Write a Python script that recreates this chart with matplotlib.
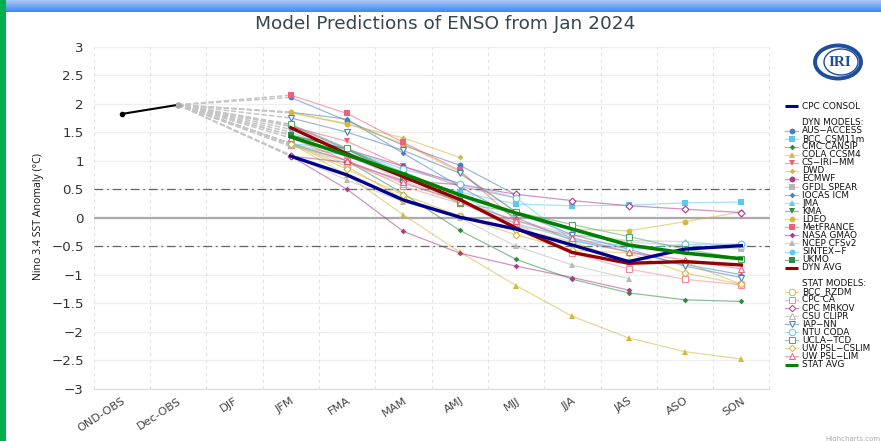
import numpy as np
import matplotlib
matplotlib.use("Agg")
import matplotlib.pyplot as plt
from matplotlib.patches import Ellipse

W, H = 881, 441
n = np.nan

categories = ["OND-OBS", "Dec-OBS", "DJF", "JFM", "FMA", "MAM", "AMJ", "MJJ", "JJA", "JAS", "ASO", "SON"]
yticks = [3, 2.5, 2, 1.5, 1, 0.5, 0, -0.5, -1, -1.5, -2, -2.5, -3]

obs_x = [0, 1]
obs_vals = [1.82, 1.98]

# forecast values JFM..SON
aus_access = [2.11, 1.70, 1.27, 0.92, 0.40, n, n, n, n]
bcc_csm = [1.30, 1.08, 0.70, 0.45, 0.24, 0.21, 0.22, 0.26, 0.275]
cmc_cansip = [1.30, 1.00, 0.42, -0.22, -0.73, -1.08, -1.32, -1.44, -1.47]
cola_ccsm4 = [1.30, 0.75, 0.05, -0.60, -1.19, -1.73, -2.11, -2.35, -2.48]
cs_iri_mm = [1.60, 1.34, 0.90, 0.55, 0.35, n, n, n, n]
dwd = [1.84, 1.64, 1.40, 1.06, n, n, n, n, n]
ecmwf = [1.62, 1.20, 0.90, 0.60, n, n, n, n, n]
gfdl_spear = [1.25, 1.10, 0.65, 0.30, -0.05, -0.30, -0.42, -0.50, -0.55]
iocas_icm = [1.85, 1.73, 1.13, 0.55, 0.00, -0.40, -0.60, -0.82, -1.00]
jma = [1.50, 1.15, 0.75, 0.40, n, n, n, n, n]
kma = [1.45, 1.20, 0.75, 0.30, n, n, n, n, n]
ldeo = [1.85, 1.65, 1.30, 0.80, 0.10, -0.20, -0.23, -0.07, 0.10]
metfrance = [2.15, 1.83, 1.32, 0.83, -0.05, n, n, n, n]
nasa_gmao = [1.08, 0.50, -0.24, -0.62, -0.85, -1.05, -1.27, n, n]
ncep_cfsv2 = [1.10, 0.66, 0.28, 0.00, -0.50, -0.83, -1.07, n, n]
sintex_f = [1.55, 1.20, 0.80, 0.40, -0.10, -0.38, -0.50, n, n]
ukmo = [1.45, 1.20, 0.70, 0.30, n, n, n, n, n]
dyn_avg = [1.58, 1.12, 0.72, 0.32, -0.18, -0.61, -0.80, -0.77, -0.83]
cpc_consol = [1.08, 0.75, 0.31, 0.01, -0.20, -0.48, -0.77, -0.55, -0.49]
bcc_rzdm = [1.30, 0.90, 0.33, 0.03, -0.20, -0.42, -0.78, -0.78, -1.17]
cpc_ca = [1.28, 1.00, 0.55, 0.25, -0.10, -0.62, -0.90, -1.08, -1.18]
cpc_mrkov = [1.08, 0.97, 0.65, 0.58, 0.41, 0.30, 0.21, 0.15, 0.09]
csu_clipr = [1.30, 0.95, 0.60, 0.30, -0.15, -0.30, -0.40, -0.42, -0.50]
iap_nn = [1.75, 1.50, 1.18, 0.78, 0.10, -0.30, -0.55, -0.85, -1.05]
ntu_coda = [1.30, 1.20, 0.85, 0.60, 0.35, -0.40, -0.55, -0.47, -0.46]
ucla_tcd = [1.64, 1.22, 0.75, 0.25, 0.10, -0.12, -0.33, -0.55, -0.72]
uw_cslim = [1.30, 0.85, 0.40, 0.03, -0.30, -0.57, -0.62, -0.97, -1.17]
uw_lim = [1.40, 1.00, 0.62, 0.28, -0.05, -0.35, -0.60, -0.74, -0.90]
stat_avg = [1.42, 1.10, 0.77, 0.40, 0.08, -0.20, -0.48, -0.62, -0.72]

# name, values, colour, marker
dyn_models = [
    ("AUS-ACCESS", aus_access, "#4a80b8", "o"),
    ("BCC_CSM11m", bcc_csm, "#5cc8f0", "s"),
    ("CMC CANSIP", cmc_cansip, "#2e8b45", "D"),
    ("COLA CCSM4", cola_ccsm4, "#d4b840", "^"),
    ("CS-IRI-MM", cs_iri_mm, "#f0607a", "v"),
    ("DWD", dwd, "#d4b840", "D"),
    ("ECMWF", ecmwf, "#b03a8a", "o"),
    ("GFDL SPEAR", gfdl_spear, "#b8b8b8", "s"),
    ("IOCAS ICM", iocas_icm, "#4a80b8", "D"),
    ("JMA", jma, "#5cc8f0", "^"),
    ("KMA", kma, "#2e8b45", "v"),
    ("LDEO", ldeo, "#d4b840", "o"),
    ("MetFRANCE", metfrance, "#f0607a", "s"),
    ("NASA GMAO", nasa_gmao, "#b03a8a", "D"),
    ("NCEP CFSv2", ncep_cfsv2, "#b8b8b8", "^"),
    ("SINTEX-F", sintex_f, "#5cc8f0", "o"),
    ("UKMO", ukmo, "#2e8b45", "s"),
]
stat_models = [
    ("BCC_RZDM", bcc_rzdm, "#d4b840", "o"),
    ("CPC CA", cpc_ca, "#f08a9a", "s"),
    ("CPC MRKOV", cpc_mrkov, "#b03a8a", "D"),
    ("CSU CLIPR", csu_clipr, "#b8b8b8", "^"),
    ("IAP-NN", iap_nn, "#4a80b8", "v"),
    ("NTU CODA", ntu_coda, "#5cc8f0", "o"),
    ("UCLA-TCD", ucla_tcd, "#4fa868", "s"),
    ("UW PSL-CSLIM", uw_cslim, "#d4b840", "D"),
    ("UW PSL-LIM", uw_lim, "#f0607a", "^"),
]

marker_size = {"o": 4.2, "s": 4.0, "D": 2.9, "^": 4.2, "v": 4.2}

fig = plt.figure(figsize=(W / 100, H / 100), dpi=100)

# page furniture and legend are laid out in pixels on a full figure axes
bg = fig.add_axes([0, 0, 1, 1])
bg.set_xlim(0, W)
bg.set_ylim(H, 0)
bg.axis("off")
band = np.linspace(0, 1, 12).reshape(-1, 1)
top_c = np.array([170, 198, 246])
bot_c = np.array([60, 140, 240])
band_img = (top_c + (bot_c - top_c) * band[..., None]) / 255
bg.imshow(band_img, extent=(0, W, 12, 0), aspect="auto", zorder=1)
bg.fill_between([0, 6], 0, H, color="#00b050", lw=0, zorder=2)
bg.set_xlim(0, W)
bg.set_ylim(H, 0)

bg.text(445, 24, "Model Predictions of ENSO from Jan 2024", ha="center", va="center",
        fontsize=13.3, color="#36454f")
bg.text(38, 217, "Nino 3.4 SST Anomaly (°C)", rotation=90, ha="center", va="center",
        fontsize=7.6, family="Open Sans", color="#111111")
bg.text(881, 439, "Highcharts.com", ha="right", va="center", fontsize=5, color="#aaaaaa")

# IRI logo
bg.add_patch(Ellipse((838, 62), 46, 33, fc="white", ec="#1f4e9c", lw=2.8))
bg.add_patch(Ellipse((841, 62), 34, 26, fc="white", ec="#1f4e9c", lw=1))
bg.text(840, 62, "IRI", ha="center", va="center", fontsize=11, family="Liberation Serif",
        fontweight="bold", color="#1f4e9c")

ax = fig.add_axes([93.5 / W, 1 - 388.7 / H, 676 / W, 342 / H])
ax.patch.set_alpha(0)
x_fc = np.arange(3, 12)
ax.set_xlim(-0.5, 11.5)
ax.set_ylim(-3, 3)
ax.set_xticks(np.arange(len(categories)))
ax.set_xticklabels(categories, rotation=33, ha="right", rotation_mode="anchor",
                   fontsize=8.2, color="#444444")
ax.set_yticks(yticks)
ax.set_yticklabels([str(v).replace("-", "\u2212") for v in yticks], fontsize=9.6, color="#333333")
ax.tick_params(axis="both", length=0)
ax.tick_params(axis="y", pad=7)
ax.tick_params(axis="x", pad=5)
for s in ["top", "left", "right"]:
    ax.spines[s].set_visible(False)
ax.spines["bottom"].set_color("#d8d8e6")
for v in yticks:
    ax.axhline(v, color="#eeeeee", lw=0.9, zorder=1)
for v in np.arange(-0.5, 12, 1):
    ax.axvline(v, color="#e2e2e2", lw=0.8, ls=(0, (3, 3)), zorder=1)
ax.axhline(0, color="#aaaaaa", lw=1.6, zorder=2)
for v in [0.5, -0.5]:
    ax.axhline(v, color="#666666", lw=0.9, ls=(0, (7, 3, 1.5, 3)), zorder=2)

all_models = dyn_models + stat_models
# dashed fans from the last observation
for name, vals, c, m in all_models:
    ax.plot([1, 3], [obs_vals[1], vals[0]], color="#c6c6c6", lw=1.1, ls=(0, (3.5, 1.5)), zorder=3)
ax.plot(obs_x, obs_vals, color="black", lw=1.5, marker="o", ms=3, zorder=4)
ax.plot([1], [obs_vals[1]], marker="s", color="#aaaaaa", ms=3.5, zorder=5)

for name, vals, c, m in dyn_models:
    ax.plot(x_fc, vals, color=c, lw=0.9, alpha=0.55, zorder=4)
    ax.plot(x_fc, vals, color=c, lw=0, marker=m, ms=marker_size[m], mew=0, zorder=5)
for name, vals, c, m in stat_models:
    ax.plot(x_fc, vals, color=c, lw=0.9, alpha=0.55, zorder=4)
    ax.plot(x_fc, vals, color=c, lw=0, marker=m, ms=marker_size[m] + 0.6, mfc="white", mew=0.8, zorder=6)
ax.plot(x_fc, dyn_avg, color="#960000", lw=2.4, zorder=7)
ax.plot(x_fc, cpc_consol, color="#000090", lw=2.4, zorder=7)
ax.plot(x_fc, stat_avg, color="#008000", lw=2.6, zorder=8)

# legend
row_h = 8.07
def row_y(i):
    return 106.3 + i * row_h

def legend_row(i, label, c=None, m=None, lw=None, open_mark=False):
    y = row_y(i)
    if lw:
        bg.plot([785, 798], [y, y], color=c, lw=lw, zorder=3, solid_capstyle="butt")
    elif c:
        bg.plot([785, 798], [y, y], color=c, lw=0.9, alpha=0.55, zorder=3)
        if open_mark:
            bg.plot([791.5], [y], marker=m, color=c, ms=marker_size[m] + 0.4, mfc="white", mew=0.7, zorder=4)
        else:
            bg.plot([791.5], [y], marker=m, color=c, ms=marker_size[m], mew=0, zorder=4)
    bg.text(802, y, label, ha="left", va="center", fontsize=6.4, color="#111111")

legend_row(0, "CPC CONSOL", "#000090", lw=2.2)
legend_row(2, "DYN MODELS:")
i = 3
for name, vals, c, m in dyn_models:
    legend_row(i, name.replace("-", "\u2212"), c, m)
    i += 1
legend_row(i, "DYN AVG", "#960000", lw=2.2)
i += 2
legend_row(i, "STAT MODELS:")
i += 1
for name, vals, c, m in stat_models:
    legend_row(i, name.replace("-", "\u2212"), c, m, open_mark=True)
    i += 1
legend_row(i, "STAT AVG", "#008000", lw=2.2)

fig.savefig("out.png", dpi=100)
